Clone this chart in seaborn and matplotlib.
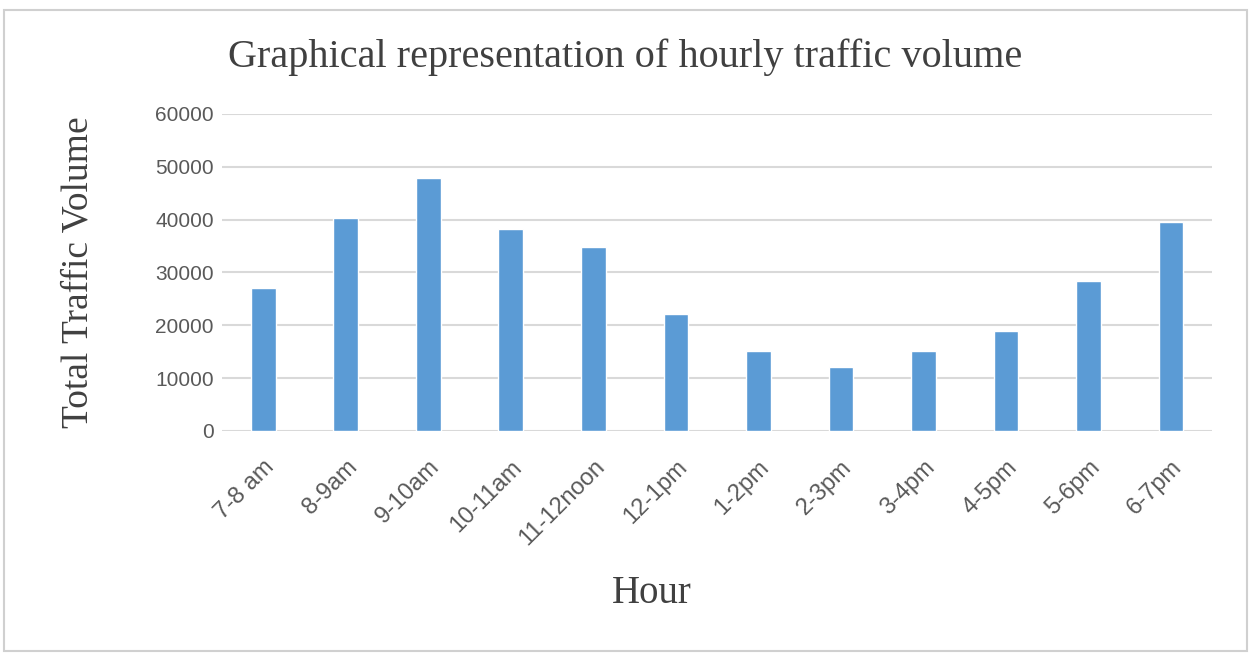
import matplotlib
matplotlib.use("Agg")
import matplotlib.pyplot as plt
import seaborn as sns
import pandas as pd
from matplotlib.patches import Rectangle

# data
hours = ["7-8 am", "8-9am", "9-10am", "10-11am", "11-12noon", "12-1pm",
         "1-2pm", "2-3pm", "3-4pm", "4-5pm", "5-6pm", "6-7pm"]
volume = [27100, 40400, 47800, 38300, 34900, 22200,
          15200, 12200, 15200, 18900, 28400, 39500]

df = pd.DataFrame({"hour": hours, "volume": volume})

sns.set_style("white")
plt.rcParams["font.family"] = ["Liberation Sans", "DejaVu Sans"]

fig = plt.figure(figsize=(12.51, 6.54), dpi=100)
ax = fig.add_axes([0.1775, 0.341, 0.7915, 0.4847])

sns.barplot(data=df, x="hour", y="volume", color="#5B9BD5", saturation=1,
            width=0.3, ax=ax)

ax.set_ylim(0, 60000)
ax.set_yticks(range(0, 60001, 10000))
ax.set_xlim(-0.5, len(hours) - 0.5)
ax.yaxis.grid(True, color="#d9d9d9", linewidth=1.5)
ax.set_axisbelow(True)
for s in ax.spines.values():
    s.set_visible(False)

ax.tick_params(axis="both", length=0, colors="#595959")
ax.tick_params(axis="y", pad=6, labelsize=15)
ax.tick_params(axis="x", pad=18, labelsize=17)
plt.setp(ax.get_xticklabels(), rotation=45, ha="right", rotation_mode="anchor")

serif = ["Liberation Serif", "DejaVu Serif"]
ax.set_xlabel("Hour", fontsize=28, family=serif, color="#404040")
ax.xaxis.set_label_coords(0.434, -0.455)
ax.set_ylabel("Total Traffic Volume", fontsize=27, family=serif, color="#404040")
ax.yaxis.set_label_coords(-0.128, 0.5)

fig.text(0.5, 0.913, "Graphical representation of hourly traffic volume",
         ha="center", va="center", fontsize=29, family=serif, color="#404040")

# outer chart border
fig.patches.append(Rectangle((0.003, 0.005), 0.994, 0.98, transform=fig.transFigure,
                             fill=False, edgecolor="#d0d0d0", linewidth=1.5))

fig.savefig("out.png", dpi=100)
